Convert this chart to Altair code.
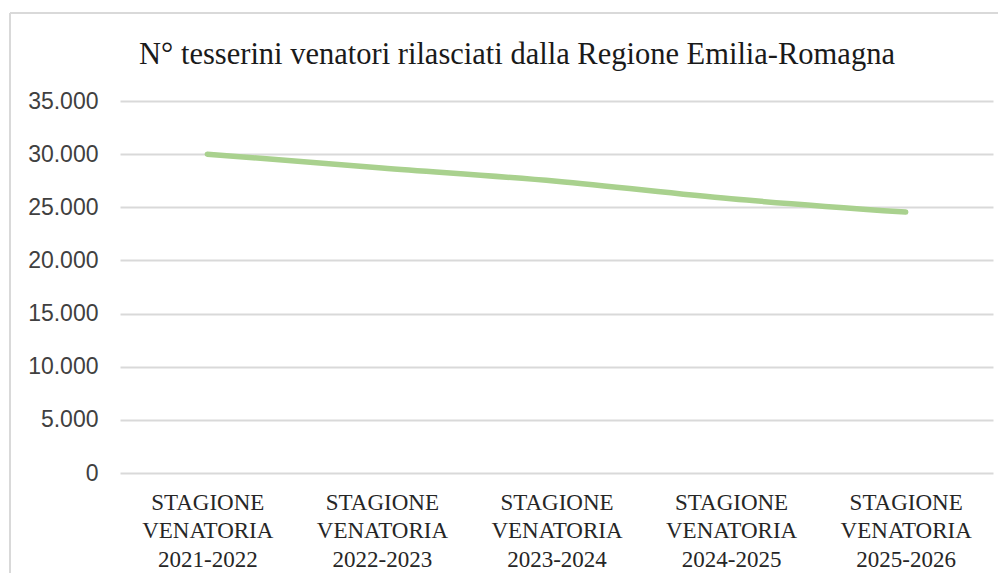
import altair as alt
import pandas as pd

seasons = [
    "STAGIONE VENATORIA 2021-2022",
    "STAGIONE VENATORIA 2022-2023",
    "STAGIONE VENATORIA 2023-2024",
    "STAGIONE VENATORIA 2024-2025",
    "STAGIONE VENATORIA 2025-2026",
]
tesserini = [30000, 28700, 27450, 25800, 24550]
y_ticks = [0, 5000, 10000, 15000, 20000, 25000, 30000, 35000]
title_text = "N° tesserini venatori rilasciati dalla Regione Emilia-Romagna"

SERIF = "'Liberation Serif', 'DejaVu Serif', serif"

df = pd.DataFrame({"stagione": seasons, "tesserini": tesserini})

line = alt.Chart(df).mark_line(
    color="#a9d18e", strokeWidth=5.5, strokeCap="round", interpolate="monotone"
).encode(
    x=alt.X(
        "stagione:N",
        sort=seasons,
        scale=alt.Scale(type="point", padding=0.5),
        axis=alt.Axis(
            title=None,
            labelAngle=0,
            labelExpr="split(datum.label, ' ')",
            labelFont=SERIF,
            labelFontSize=23,
            labelColor="#262626",
            labelLineHeight=28.5,
            labelPadding=18,
            labelBaseline="top",
            domain=False,
            ticks=False,
            grid=False,
        ),
    ),
    y=alt.Y(
        "tesserini:Q",
        scale=alt.Scale(domain=[0, 35000]),
        axis=alt.Axis(
            title=None,
            values=y_ticks,
            labelExpr="replace(format(datum.value, ','), ',', '.')",
            labelFont="Liberation Sans",
            labelFontSize=23,
            labelColor="#404040",
            labelPadding=22,
            domain=False,
            ticks=False,
            gridColor="#d9d9d9",
            gridWidth=2,
        ),
    ),
)

frame_left = alt.Chart(df).mark_rule(color="#d9d9d9", strokeWidth=2).encode(
    x=alt.value(-110), y=alt.value(-88), y2=alt.value(480)
)
frame_top = alt.Chart(df).mark_rule(color="#d9d9d9", strokeWidth=2).encode(
    x=alt.value(-110), x2=alt.value(880), y=alt.value(-88)
)
title = alt.Chart(pd.DataFrame({"t": [title_text]})).mark_text(
    font=SERIF,
    fontSize=30.5,
    color="#1a1a1a",
    align="center",
    baseline="alphabetic",
).encode(text="t:N", x=alt.value(397), y=alt.value(-37))

chart = alt.layer(frame_left, frame_top, title, line).properties(
    width=873,
    height=372,
    autosize=alt.AutoSizeParams(type="none"),
    padding={"left": 112, "top": 93, "right": 5, "bottom": 100},
).configure_view(stroke=None)

chart.save("out.html", embed_options={"renderer": "svg", "actions": False})
